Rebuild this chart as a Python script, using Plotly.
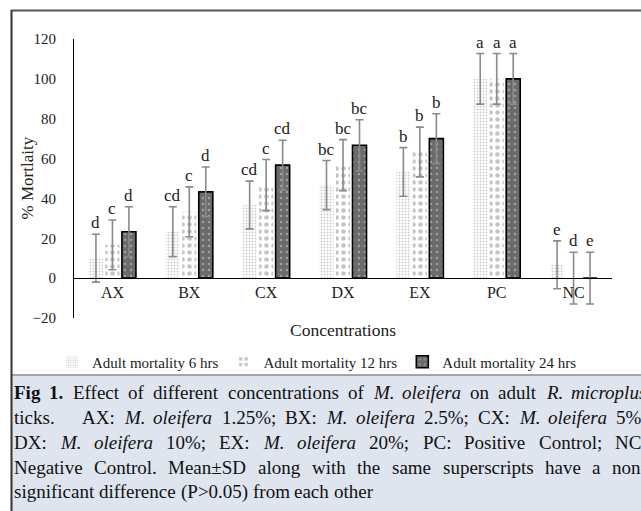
import plotly.graph_objects as go

categories = ["AX", "BX", "CX", "DX", "EX", "PC", "NC"]
series_names = ["Adult mortality 6 hrs", "Adult mortality 12 hrs", "Adult mortality 24 hrs"]
m6 = [10, 23.3, 36.7, 46.7, 53.3, 100, 6.7]
m12 = [16.7, 33.3, 46.7, 56.7, 63.3, 100, 0]
m24 = [23.3, 43.3, 56.7, 66.7, 70, 100, 0]
sd6 = [12, 12.5, 12, 12.3, 12.2, 12.7, 12]
sd12 = [12.5, 12.5, 12.8, 12.8, 12.5, 12.7, 13]
sd24 = [12.5, 12.5, 12.5, 12.8, 12.5, 12.7, 13]
l6 = ["d", "cd", "cd", "bc", "b", "a", "e"]
l12 = ["c", "c", "c", "bc", "b", "a", "d"]
l24 = ["d", "d", "cd", "bc", "b", "a", "e"]
y_ticks = [-20, 0, 20, 40, 60, 80, 100, 120]

caption_lines = [
    "**Fig** **1.** Effect of different concentrations of *M.* *oleifera* on adult *R.* *microplus*",
    "ticks.   AX: *M.* *oleifera* 1.25%; BX: *M.* *oleifera* 2.5%; CX: *M.* *oleifera* 5%;",
    "DX: *M.* *oleifera* 10%; EX: *M.* *oleifera* 20%; PC: Positive Control; NC:",
    "Negative Control. Mean±SD along with the same superscripts have a non-",
    "significant difference (P>0.05) from each other",
]

W, H = 641, 511
L, R, T, B = 74, 612, 39, 318
SERIF = "Liberation Serif"


def px(x):
    return (x - L) / (R - L)


def py(y):
    return (B - y) / (B - T)


# Times (Liberation Serif metric-compatible) advance widths per 1000 em, for caption justification
ROMAN = {' ': 250, '%': 833, '(': 333, ')': 333, ',': 250, '-': 333, '.': 250, ':': 278, ';': 278,
         '>': 564, '±': 564, 'A': 722, 'B': 667, 'C': 667, 'D': 722, 'E': 611, 'F': 556, 'G': 722,
         'M': 889, 'N': 722, 'P': 556, 'R': 667, 'S': 556, 'X': 722,
         'a': 444, 'b': 500, 'c': 444, 'd': 500, 'e': 444, 'f': 333, 'g': 500, 'h': 500, 'i': 278,
         'j': 278, 'k': 500, 'l': 278, 'm': 778, 'n': 500, 'o': 500, 'p': 500, 'q': 500, 'r': 333,
         's': 389, 't': 278, 'u': 500, 'v': 500, 'w': 722, 'x': 500, 'y': 500, 'z': 444}
ITALIC = {'M': 833, 'R': 611, '.': 250, 'o': 500, 'l': 278, 'e': 444, 'i': 278, 'f': 278, 'r': 389,
          'a': 500, 'm': 722, 'c': 444, 'p': 500, 'u': 500, 's': 389}
BOLD = {'F': 611, 'i': 278, 'g': 500, '1': 500, '.': 250}


def word_width(word, style, size):
    table = {"r": ROMAN, "i": ITALIC, "b": BOLD}[style]
    total = 0
    for ch in word:
        if ch.isdigit():
            total += 500
        else:
            total += table.get(ch, ROMAN.get(ch, 500))
    return total * size / 1000.0


def parse(line):
    words = []
    gaps = []
    pending = 0
    for tok in line.split(" "):
        if tok == "":
            pending += 1
            continue
        if words:
            gaps.append(1 + pending)
        pending = 0
        if tok.startswith("**"):
            words.append((tok.strip("*"), "b"))
        elif tok.startswith("*"):
            words.append((tok.strip("*"), "i"))
        else:
            words.append((tok, "r"))
    return words, gaps


styles = [
    dict(color="white", pattern=dict(shape=".", fgcolor="#9a9a9a", bgcolor="white", size=3, solidity=0.3),
         line=dict(width=0)),
    dict(color="white", pattern=dict(shape=".", fgcolor="#8a8a8a", bgcolor="white", size=7, solidity=0.35),
         line=dict(width=0)),
    dict(color="#6b6b6b", pattern=dict(shape=".", fgcolor="#d8d8d8", bgcolor="#6b6b6b", size=6, solidity=0.12),
         line=dict(width=1.6, color="black")),
]

fig = go.Figure()
for name, m, sd, st in zip(series_names, [m6, m12, m24], [sd6, sd12, sd24], styles):
    fig.add_trace(go.Bar(
        x=categories, y=m, name=name, marker=st,
        error_y=dict(type="data", array=sd, visible=True, color="#8a8a8a", thickness=1.6, width=4),
    ))

annotations = []
shift = 16.5
for j, (m, sd, lab) in enumerate(zip([m6, m12, m24], [sd6, sd12, sd24], [l6, l12, l24])):
    for c, mv, sv, t in zip(categories, m, sd, lab):
        annotations.append(dict(x=c, y=mv + sv, xref="x", yref="y", text=t, showarrow=False,
                                xshift=(j - 1) * shift, yanchor="bottom", yshift=0,
                                font=dict(family=SERIF, size=17, color="#222")))

annotations.append(dict(x=px(27), y=0.5, xref="paper", yref="paper", text="% Mortlaity", textangle=-90,
                        xanchor="center", yanchor="middle",
                        showarrow=False, font=dict(family=SERIF, size=17, color="#222")))
annotations.append(dict(x=px(343), y=py(330), xref="paper", yref="paper", text="Concentrations",
                        xanchor="center", yanchor="middle",
                        showarrow=False, font=dict(family=SERIF, size=17.5, color="#222")))

CAP_SIZE = 19
CAP_LEFT, CAP_RIGHT = 13, 646
for k, line in enumerate(caption_lines):
    words, gaps = parse(line)
    widths = [word_width(w, s, CAP_SIZE) for w, s in words]
    space = 0.25 * CAP_SIZE
    natural = sum(widths) + sum(gaps) * space
    justify = k < len(caption_lines) - 1
    extra = (CAP_RIGHT - CAP_LEFT - natural) / sum(gaps) if (justify and gaps) else 0
    xpos = CAP_LEFT
    for i, ((w, s), wd) in enumerate(zip(words, widths)):
        txt = {"b": "<b>%s</b>", "i": "<i>%s</i>", "r": "%s"}[s] % w
        annotations.append(dict(x=px(xpos), y=py(392 + 25 * k), xref="paper", yref="paper", text=txt,
                                showarrow=False, xanchor="left", yanchor="middle", borderpad=0,
                                font=dict(family=SERIF, size=CAP_SIZE, color="#111")))
        if i < len(gaps):
            xpos += wd + gaps[i] * (space + extra)

shapes = [
    dict(type="rect", xref="paper", yref="paper", x0=px(11), x1=px(650), y0=py(375), y1=py(520),
         fillcolor="#dfe5ee", line=dict(width=0), layer="below"),
    dict(type="line", xref="paper", yref="paper", x0=px(11), x1=px(650), y0=py(375), y1=py(375),
         line=dict(color="#8a8a8a", width=1.5)),
    dict(type="line", xref="paper", yref="paper", x0=px(11), x1=px(650), y0=py(10.5), y1=py(10.5),
         line=dict(color="#555", width=2)),
    dict(type="line", xref="paper", yref="paper", x0=px(11.5), x1=px(11.5), y0=py(10), y1=py(520),
         line=dict(color="#333", width=2)),
]

fig.update_layout(
    width=W, height=H,
    margin=dict(l=L, r=W - R, t=T, b=H - B, pad=0),
    paper_bgcolor="white", plot_bgcolor="white",
    barmode="group", bargap=0.356, bargroupgap=0.15,
    showlegend=True,
    legend=dict(orientation="h", x=px(52), y=py(362), xanchor="left", yanchor="middle",
                font=dict(family=SERIF, size=15, color="#222"), bgcolor="rgba(0,0,0,0)",
                itemwidth=30, tracegroupgap=0),
    xaxis=dict(anchor="free", position=20 / 140, showline=True, linecolor="black", linewidth=1,
               ticks="", showgrid=False, zeroline=False,
               tickfont=dict(family=SERIF, size=16, color="#222")),
    yaxis=dict(range=[-20, 120], tickvals=y_ticks, showline=True, linecolor="black", linewidth=1,
               ticks="", showgrid=False, zeroline=False, ticklabelstandoff=14,
               tickfont=dict(family=SERIF, size=15, color="#222")),
    annotations=annotations, shapes=shapes,
)

fig.write_html("out.html", config={"displayModeBar": False},
               post_script="document.body.style.margin='0';document.body.style.overflow='hidden';")
